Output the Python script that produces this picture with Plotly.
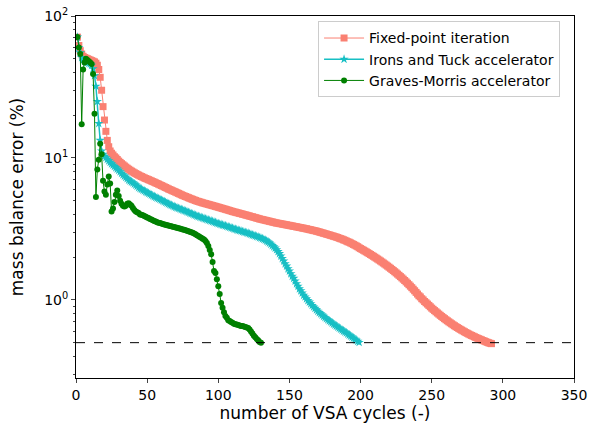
import plotly.graph_objects as go

fixed_point = [
    71, 62, 57, 54, 52, 51, 50.5, 50, 49.5, 49,
    48.5, 48, 47.5, 46.5, 45, 42, 37, 30, 23, 18.5,
    15.4, 13.3, 12, 11.2, 10.8, 10.5, 10.2, 10, 9.75, 9.5,
    9.3, 9.12, 8.95, 8.78, 8.62, 8.47, 8.33, 8.2, 8.08, 7.97,
    7.86, 7.76, 7.66, 7.57, 7.48, 7.4, 7.32, 7.24, 7.17, 7.1,
    7.03, 6.96, 6.89, 6.82, 6.75, 6.68, 6.61, 6.54, 6.47, 6.4,
    6.33, 6.26, 6.19, 6.12, 6.05, 5.99, 5.93, 5.87, 5.81, 5.75,
    5.69, 5.63, 5.57, 5.51, 5.45, 5.4, 5.35, 5.3, 5.25, 5.2,
    5.15, 5.11, 5.06, 5.02, 4.97, 4.94, 4.9, 4.87, 4.83, 4.8,
    4.77, 4.74, 4.71, 4.68, 4.65, 4.62, 4.59, 4.56, 4.53, 4.5,
    4.47, 4.44, 4.41, 4.38, 4.35, 4.32, 4.29, 4.26, 4.23, 4.2,
    4.17, 4.15, 4.12, 4.1, 4.07, 4.05, 4.02, 4.0, 3.97, 3.95,
    3.92, 3.9, 3.87, 3.85, 3.82, 3.8, 3.77, 3.75, 3.72, 3.7,
    3.68, 3.66, 3.64, 3.62, 3.6, 3.58, 3.56, 3.54, 3.52, 3.5,
    3.48, 3.47, 3.45, 3.44, 3.42, 3.41, 3.39, 3.38, 3.36, 3.35,
    3.33, 3.32, 3.3, 3.29, 3.27, 3.26, 3.24, 3.23, 3.21, 3.2,
    3.18, 3.17, 3.15, 3.13, 3.12, 3.1, 3.08, 3.07, 3.05, 3.03,
    3.01, 2.99, 2.97, 2.95, 2.93, 2.91, 2.89, 2.87, 2.85, 2.83,
    2.81, 2.79, 2.77, 2.75, 2.72, 2.7, 2.68, 2.65, 2.63, 2.6,
    2.57, 2.55, 2.52, 2.49, 2.46, 2.43, 2.4, 2.37, 2.33, 2.3,
    2.27, 2.24, 2.21, 2.18, 2.15, 2.12, 2.09, 2.06, 2.03, 2.0,
    1.97, 1.94, 1.91, 1.88, 1.85, 1.82, 1.79, 1.76, 1.73, 1.7,
    1.67, 1.64, 1.61, 1.58, 1.55, 1.52, 1.49, 1.46, 1.43, 1.4,
    1.37, 1.34, 1.31, 1.28, 1.25, 1.22, 1.19, 1.16, 1.13, 1.1,
    1.07, 1.05, 1.02, 1.0, 0.975, 0.955, 0.935, 0.915, 0.895, 0.875,
    0.858, 0.841, 0.825, 0.809, 0.794, 0.779, 0.765, 0.751, 0.738, 0.725,
    0.713, 0.701, 0.69, 0.679, 0.668, 0.658, 0.648, 0.639, 0.63, 0.621,
    0.613, 0.605, 0.597, 0.589, 0.582, 0.575, 0.568, 0.562, 0.556, 0.55,
    0.544, 0.538, 0.533, 0.528, 0.523, 0.518, 0.513, 0.508, 0.503, 0.499,
    0.495, 0.492,
]

irons_tuck = [
    71, 60, 55, 51, 49, 48, 47.5, 47, 46.5, 46,
    45, 42.5, 38, 32, 25, 17.5, 13.3, 11.2, 10.6, 10.3,
    10.05, 9.8, 9.55, 9.32, 9.1, 8.9, 8.72, 8.54, 8.37, 8.2,
    8.0, 7.8, 7.6, 7.45, 7.3, 7.15, 7.0, 6.88, 6.78, 6.68,
    6.56, 6.44, 6.32, 6.2, 6.1, 6.02, 5.94, 5.86, 5.78, 5.7,
    5.63, 5.56, 5.49, 5.42, 5.35, 5.29, 5.23, 5.17, 5.11, 5.05,
    4.99, 4.93, 4.87, 4.81, 4.75, 4.7, 4.65, 4.6, 4.55, 4.5,
    4.46, 4.42, 4.38, 4.34, 4.3, 4.26, 4.22, 4.18, 4.14, 4.1,
    4.06, 4.02, 3.98, 3.94, 3.9, 3.87, 3.84, 3.81, 3.78, 3.75,
    3.72, 3.69, 3.66, 3.63, 3.6, 3.57, 3.54, 3.51, 3.48, 3.45,
    3.42, 3.4, 3.37, 3.35, 3.33, 3.3, 3.27, 3.25, 3.22, 3.2,
    3.17, 3.15, 3.12, 3.1, 3.08, 3.06, 3.03, 3.01, 2.99, 2.97,
    2.95, 2.92, 2.9, 2.87, 2.85, 2.83, 2.8, 2.78, 2.75, 2.73,
    2.7, 2.67, 2.64, 2.6, 2.56, 2.52, 2.47, 2.42, 2.37, 2.32,
    2.26, 2.19, 2.12, 2.04, 1.96, 1.88, 1.8, 1.73, 1.66, 1.6,
    1.53, 1.47, 1.42, 1.36, 1.3, 1.25, 1.2, 1.16, 1.12, 1.08,
    1.05, 1.02, 0.99, 0.965, 0.94, 0.915, 0.893, 0.872, 0.852, 0.833,
    0.815, 0.798, 0.782, 0.767, 0.752, 0.738, 0.725, 0.712, 0.7, 0.688,
    0.676, 0.665, 0.654, 0.643, 0.633, 0.623, 0.613, 0.604, 0.595, 0.586,
    0.576, 0.566, 0.556, 0.547, 0.538, 0.529, 0.52, 0.511, 0.502,
]

graves_morris = [
    71, 60, 54, 17.3, 42, 47, 50, 49, 48, 47,
    46, 39, 20.5, 5.3, 8.3, 9.7, 12.6, 10.6, 6.9, 5.8,
    5.5, 6.5, 7.4, 6.6, 4.2, 4.4, 4.9, 5.5, 5.9, 5.4,
    5.0, 4.75, 4.6, 4.55, 4.6, 4.75, 4.8, 4.7, 4.6, 4.45,
    4.3, 4.2, 4.15, 4.1, 4.0, 3.98, 3.95, 3.9, 3.85, 3.8,
    3.77, 3.72, 3.68, 3.64, 3.6, 3.57, 3.53, 3.5, 3.48, 3.45,
    3.42, 3.4, 3.38, 3.36, 3.34, 3.32, 3.3, 3.28, 3.26, 3.24,
    3.22, 3.2, 3.18, 3.16, 3.14, 3.12, 3.1, 3.07, 3.05, 3.02,
    3.0, 2.97, 2.94, 2.9, 2.86, 2.82, 2.78, 2.74, 2.7, 2.66,
    2.6, 2.52, 2.4, 2.25, 2.1, 1.85, 1.6, 1.55, 1.4, 1.25,
    1.1, 0.95, 0.88, 0.82, 0.77, 0.75, 0.72, 0.71, 0.7, 0.69,
    0.68, 0.675, 0.67, 0.665, 0.66, 0.655, 0.655, 0.65, 0.645, 0.64,
    0.635, 0.62, 0.6, 0.58, 0.56, 0.545, 0.53, 0.52, 0.505, 0.5,
]

threshold = 0.5
x_ticks = [0, 50, 100, 150, 200, 250, 300, 350]
y_ticks = [1, 10, 100]
y_ticktext = ["10<sup>0</sup>", "10<sup>1</sup>", "10<sup>2</sup>"]
y_minor = [0.3, 0.4, 0.5, 0.6, 0.7, 0.8, 0.9,
           2, 3, 4, 5, 6, 7, 8, 9,
           20, 30, 40, 50, 60, 70, 80, 90]

def cycles(vals):
    return list(range(1, len(vals) + 1))

fig = go.Figure()
fig.add_trace(go.Scatter(
    x=cycles(fixed_point), y=fixed_point, mode="lines+markers",
    name="Fixed-point iteration",
    line=dict(color="#FA8072", width=1),
    marker=dict(symbol="square", size=7, color="#FA8072"),
))
fig.add_trace(go.Scatter(
    x=cycles(irons_tuck), y=irons_tuck, mode="lines+markers",
    name="Irons and Tuck accelerator",
    line=dict(color="#17BFC4", width=1.5),
    marker=dict(symbol="star", size=7, color="#17BFC4"),
))
fig.add_trace(go.Scatter(
    x=cycles(graves_morris), y=graves_morris, mode="lines+markers",
    name="Graves-Morris accelerator",
    line=dict(color="#008000", width=1),
    marker=dict(symbol="circle", size=6, color="#008000"),
))

fig.add_shape(type="line", xref="paper", x0=0, x1=1, yref="y",
              y0=threshold, y1=threshold,
              line=dict(color="black", width=1, dash="dash"))

font = "DejaVu Sans, Arial, sans-serif"
fig.update_layout(
    width=592, height=432,
    margin=dict(l=76, r=18, t=16, b=54),
    paper_bgcolor="white", plot_bgcolor="white",
    font=dict(family=font, size=14, color="black"),
    showlegend=True,
    legend=dict(x=0.972, y=0.985, xanchor="right", yanchor="top",
                bgcolor="rgba(255,255,255,0.8)", bordercolor="#cccccc",
                borderwidth=1, font=dict(size=14, family=font),
                tracegroupgap=0, itemwidth=40),
)
fig.update_xaxes(
    range=[0, 350], tickvals=x_ticks, ticks="outside", ticklen=4,
    showline=True, mirror=True, linecolor="black", linewidth=1,
    showgrid=False, zeroline=False, automargin=False,
    title=dict(text="number of VSA cycles (-)", standoff=0),
)
fig.update_yaxes(
    type="log", range=[-0.55, 2], tickvals=y_ticks, ticktext=y_ticktext,
    ticks="outside", ticklen=4, ticklabeloverflow="allow",
    minor=dict(tickvals=y_minor, ticks="outside", ticklen=2, showgrid=False),
    showline=True, mirror=True, linecolor="black", linewidth=1,
    showgrid=False, zeroline=False, automargin=False,
    title=dict(text="mass balance error (%)", standoff=16),
)

fig.write_html("out.html", config={"displayModeBar": False},
               post_script="document.body.style.margin='0';")
